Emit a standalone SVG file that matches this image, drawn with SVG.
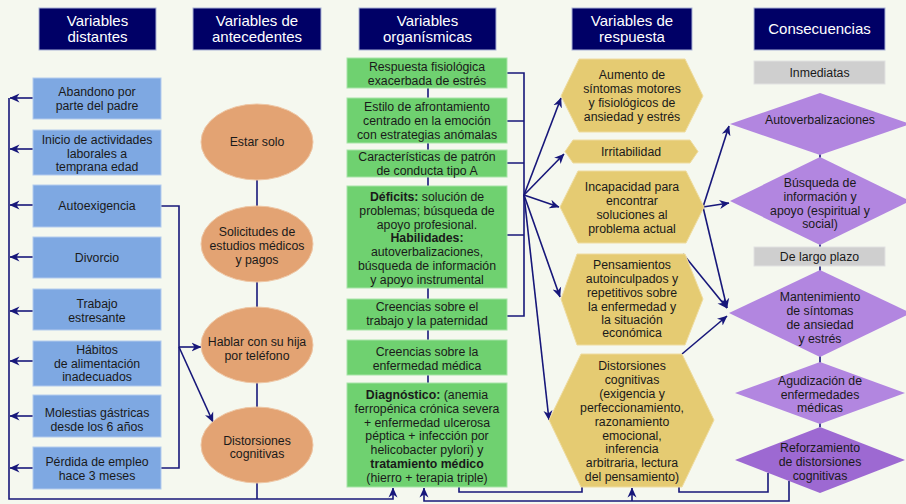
<svg xmlns="http://www.w3.org/2000/svg" width="906" height="504" viewBox="0 0 906 504">
<defs>
<marker id="ah" viewBox="0 0 10 10" refX="9.5" refY="5" markerWidth="10" markerHeight="10" orient="auto" markerUnits="userSpaceOnUse"><path d="M0,0.5 L10,5 L0,9.5 L3,5 z" fill="#17177a"/></marker>
<style>
.hdr{fill:#000066;stroke:#aab2d6;stroke-width:1}
.ht{fill:#ffffff;font-family:"Liberation Sans",Arial,sans-serif;font-size:15px;text-anchor:middle}
.t{fill:#1a1a1a;font-family:"Liberation Sans",Arial,sans-serif;font-size:12.3px;text-anchor:middle}
.b{font-weight:bold}
.blue{fill:#7ea8e2;stroke:#b4cbee;stroke-width:1}
.ell{fill:#e3a373;stroke:#eec6a4;stroke-width:1}
.grn{fill:#6fd170;stroke:#a8e4a8;stroke-width:1}
.hex{fill:#e5cb72;stroke:#efdca0;stroke-width:1}
.gray{fill:#cfcfcf;stroke:#e2e2e2;stroke-width:1}
.dia{fill:#b286e0}
.dia2{fill:#9d69d2}
.c{fill:none;stroke:#17177a;stroke-width:1.6}
.ca{fill:none;stroke:#17177a;stroke-width:1.6;marker-end:url(#ah)}
</style>
</defs>
<rect x="0" y="0" width="906" height="504" fill="#f5f8ef"/>

<g id="connectors">
<path class="ca" d="M33,98 H10"/>
<path class="ca" d="M33,149 H10"/>
<path class="ca" d="M33,205 H10"/>
<path class="ca" d="M33,257 H10"/>
<path class="ca" d="M33,311 H10"/>
<path class="ca" d="M33,361 H10"/>
<path class="ca" d="M33,416 H10"/>
<path class="ca" d="M33,468 H10"/>
<path class="ca" d="M9,98 V499 H393 V488"/>
<path class="c" d="M257,180 V499"/>
<path class="c" d="M161,206 H179 V468 H161"/>
<path class="ca" d="M179,347 H201"/>
<path class="ca" d="M179,347 L213,422"/>
<path class="c" d="M428,88 V383"/>
<path class="c" d="M507,73 H524 V316 H507 M507,121 H524 M507,163 H524 M507,235 H524"/>
<path class="ca" d="M524,195 L561,98"/>
<path class="ca" d="M524,195 L564,154"/>
<path class="ca" d="M524,195 L559,207"/>
<path class="ca" d="M524,195 L560,297"/>
<path class="ca" d="M524,195 L549,420"/>
<path class="c" d="M459,487 V492 H582 V487"/>
<path class="c" d="M679,487 V492 H768 V473"/>
<path class="ca" d="M789,481 V501 H424 V488"/>
<path class="ca" d="M632,501 V488"/>
<path class="c" d="M820,154 V427"/>
<path class="ca" d="M703,207 L729,126"/>
<path class="ca" d="M703,207 L729,203"/>
<path class="ca" d="M703,207 L727,308"/>
<path class="ca" d="M683,254 L727,308"/>
<path class="ca" d="M682,354 L727,316"/>
</g>

<g id="h1"><rect class="hdr" x="39" y="8" width="117" height="42"/><text class="ht" x="97.5" y="26">Variables</text><text class="ht" x="97.5" y="42">distantes</text></g>
<g id="h2"><rect class="hdr" x="193" y="8" width="128" height="42"/><text class="ht" x="257" y="26">Variables de</text><text class="ht" x="257" y="42">antecedentes</text></g>
<g id="h3"><rect class="hdr" x="359" y="8" width="137" height="42"/><text class="ht" x="427.5" y="26">Variables</text><text class="ht" x="427.5" y="42">organísmicas</text></g>
<g id="h4"><rect class="hdr" x="572" y="8" width="120" height="42"/><text class="ht" x="632" y="26">Variables de</text><text class="ht" x="632" y="42">respuesta</text></g>
<g id="h5"><rect class="hdr" x="754" y="8" width="131" height="42"/><text class="ht" x="819.5" y="34">Consecuencias</text></g>

<g id="d1"><rect class="blue" x="33" y="78" width="128" height="41"/><text class="t" x="97" y="96">Abandono por</text><text class="t" x="97" y="110">parte del padre</text></g>
<g id="d2"><rect class="blue" x="33" y="130" width="128" height="45"/><text class="t" x="97" y="144">Inicio de actividades</text><text class="t" x="97" y="158">laborales a</text><text class="t" x="97" y="171">temprana edad</text></g>
<g id="d3"><rect class="blue" x="33" y="185" width="128" height="42"/><text class="t" x="97" y="210">Autoexigencia</text></g>
<g id="d4"><rect class="blue" x="33" y="237" width="128" height="41"/><text class="t" x="97" y="262">Divorcio</text></g>
<g id="d5"><rect class="blue" x="33" y="289" width="128" height="41"/><text class="t" x="97" y="308">Trabajo</text><text class="t" x="97" y="322">estresante</text></g>
<g id="d6"><rect class="blue" x="33" y="341" width="128" height="45"/><text class="t" x="97" y="354">Hábitos</text><text class="t" x="97" y="368">de alimentación</text><text class="t" x="97" y="381">inadecuados</text></g>
<g id="d7"><rect class="blue" x="33" y="395" width="128" height="42"/><text class="t" x="97" y="417">Molestias gástricas</text><text class="t" x="97" y="431">desde los 6 años</text></g>
<g id="d8"><rect class="blue" x="33" y="447" width="128" height="42"/><text class="t" x="97" y="466">Pérdida de empleo</text><text class="t" x="97" y="480">hace 3 meses</text></g>

<g id="a1"><ellipse class="ell" cx="257" cy="142" rx="56" ry="38"/><text class="t" x="257" y="146">Estar solo</text></g>
<g id="a2"><ellipse class="ell" cx="257" cy="244" rx="56" ry="38"/><text class="t" x="257" y="236">Solicitudes de</text><text class="t" x="257" y="250">estudios médicos</text><text class="t" x="257" y="264">y pagos</text></g>
<g id="a3"><ellipse class="ell" cx="257" cy="345" rx="56" ry="38"/><text class="t" x="257" y="346">Hablar con su hija</text><text class="t" x="257" y="360">por teléfono</text></g>
<g id="a4"><ellipse class="ell" cx="257" cy="445" rx="56" ry="38"/><text class="t" x="257" y="445">Distorsiones</text><text class="t" x="257" y="458">cognitivas</text></g>

<g id="o1"><rect class="grn" x="347" y="58" width="160" height="30"/><text class="t" x="427" y="71">Respuesta fisiológica</text><text class="t" x="427" y="85">exacerbada de estrés</text></g>
<g id="o2"><rect class="grn" x="347" y="98" width="160" height="45"/><text class="t" x="427" y="111">Estilo de afrontamiento</text><text class="t" x="427" y="125">centrado en la emoción</text><text class="t" x="427" y="139">con estrategias anómalas</text></g>
<g id="o3"><rect class="grn" x="347" y="150" width="160" height="27"/><text class="t" x="427" y="161">Características de patrón</text><text class="t" x="427" y="175">de conducta tipo A</text></g>
<g id="o4"><rect class="grn" x="347" y="186" width="160" height="102"/><text class="t" x="427" y="201"><tspan class="b">Déficits:</tspan> solución de</text><text class="t" x="427" y="215">problemas; búsqueda de</text><text class="t" x="427" y="229">apoyo profesional.</text><text class="t b" x="427" y="242">Habilidades:</text><text class="t" x="427" y="256">autoverbalizaciones,</text><text class="t" x="427" y="270">búsqueda de información</text><text class="t" x="427" y="284">y apoyo instrumental</text></g>
<g id="o5"><rect class="grn" x="347" y="299" width="160" height="31"/><text class="t" x="427" y="311">Creencias sobre el</text><text class="t" x="427" y="325">trabajo y la paternidad</text></g>
<g id="o6"><rect class="grn" x="347" y="340" width="160" height="35"/><text class="t" x="427" y="356">Creencias sobre la</text><text class="t" x="427" y="370">enfermedad médica</text></g>
<g id="o7"><rect class="grn" x="347" y="383" width="160" height="104"/><text class="t" x="427" y="399"><tspan class="b">Diagnóstico:</tspan> (anemia</text><text class="t" x="427" y="413">ferropénica crónica severa</text><text class="t" x="427" y="427">+ enfermedad ulcerosa</text><text class="t" x="427" y="440">péptica + infección por</text><text class="t" x="427" y="454">helicobacter pylori) y</text><text class="t b" x="427" y="468">tratamiento médico</text><text class="t" x="427" y="482">(hierro + terapia triple)</text></g>

<g id="r1"><polygon class="hex" points="561,96 579,59 685,59 703,96 685,132 579,132"/><text class="t" x="632" y="79">Aumento de</text><text class="t" x="632" y="93">síntomas motores</text><text class="t" x="632" y="107">y fisiológicos de</text><text class="t" x="632" y="121">ansiedad y estrés</text></g>
<g id="r2"><polygon class="hex" points="565,151.5 573,140 690,140 698,151.5 690,163 573,163"/><text class="t" x="631" y="156">Irritabilidad</text></g>
<g id="r3"><polygon class="hex" points="560,207 578,171 686,171 704,207 686,243 578,243"/><text class="t" x="632" y="191">Incapacidad para</text><text class="t" x="632" y="205">encontrar</text><text class="t" x="632" y="219">soluciones al</text><text class="t" x="632" y="233">problema actual</text></g>
<g id="r4"><polygon class="hex" points="561,299 577,254 685,254 703,299 685,345 577,345"/><text class="t" x="632" y="269">Pensamientos</text><text class="t" x="632" y="283">autoinculpados y</text><text class="t" x="632" y="297">repetitivos sobre</text><text class="t" x="632" y="311">la enfermedad y</text><text class="t" x="632" y="324">la situación</text><text class="t" x="632" y="337">económica</text></g>
<g id="r5"><polygon class="hex" points="549,420 581,354 682,354 714,420 682,487 581,487"/><text class="t" x="632" y="370">Distorsiones</text><text class="t" x="632" y="384">cognitivas</text><text class="t" x="632" y="398">(exigencia y</text><text class="t" x="632" y="412">perfeccionamiento,</text><text class="t" x="632" y="426">razonamiento</text><text class="t" x="632" y="440">emocional,</text><text class="t" x="632" y="453">inferencia</text><text class="t" x="632" y="467">arbitraria, lectura</text><text class="t" x="632" y="481">del pensamiento)</text></g>

<g id="g1"><rect class="gray" x="754" y="61" width="131" height="23"/><text class="t" x="819.5" y="77">Inmediatas</text></g>
<g id="c1"><polygon class="dia" points="730,124 820,93 910,124 820,155"/><text class="t" x="820" y="124">Autoverbalizaciones</text></g>
<g id="c2"><polygon class="dia" points="730,201 820,157 910,201 820,245"/><text class="t" x="820" y="187">Búsqueda de</text><text class="t" x="820" y="201">información y</text><text class="t" x="820" y="215">apoyo (espiritual y</text><text class="t" x="820" y="228">social)</text></g>
<g id="g2"><rect class="gray" x="754" y="247" width="131" height="19"/><text class="t" x="819.5" y="261">De largo plazo</text></g>
<g id="c3"><polygon class="dia" points="729,313 820,270 911,313 820,357"/><text class="t" x="820" y="301">Mantenimiento</text><text class="t" x="820" y="315">de síntomas</text><text class="t" x="820" y="329">de ansiedad</text><text class="t" x="820" y="343">y estrés</text></g>
<g id="c4"><polygon class="dia" points="735,393 820,362 905,393 820,424"/><text class="t" x="820" y="385">Agudización de</text><text class="t" x="820" y="399">enfermedades</text><text class="t" x="820" y="412">médicas</text></g>
<g id="c5"><polygon class="dia2" points="735,460 820,427 905,460 820,493"/><text class="t" x="820" y="452">Reforzamiento</text><text class="t" x="820" y="466">de distorsiones</text><text class="t" x="820" y="480">cognitivas</text></g>
</svg>
